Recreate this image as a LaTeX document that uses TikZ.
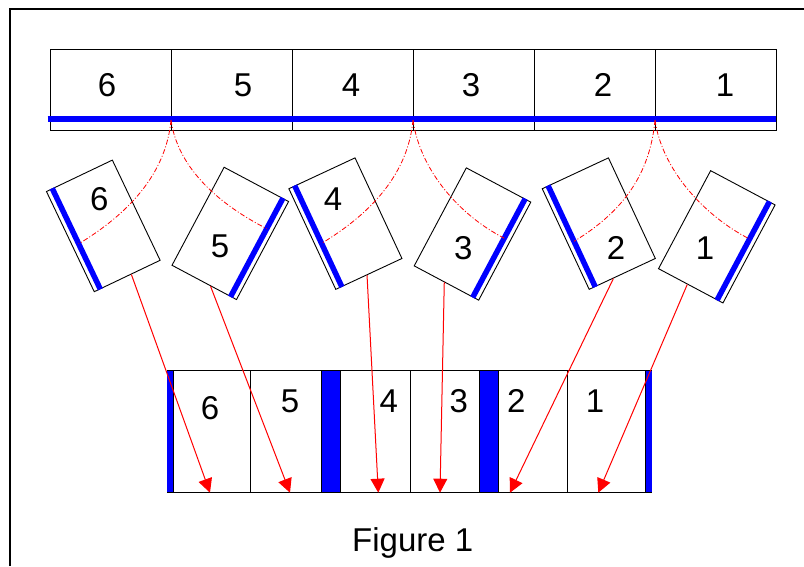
\documentclass[tikz,border=0pt]{standalone}
\usepackage{fontspec}
\setmainfont{Liberation Sans}
\usetikzlibrary{arrows.meta,calc,positioning}

\begin{document}
\begin{tikzpicture}[x=1pt,y=-1pt,
   cell/.style={draw,line width=0.9pt,inner sep=0pt,outer sep=0pt,minimum width=121pt,minimum height=81pt},
   slot/.style={draw,line width=0.9pt,inner sep=0pt,outer sep=0pt,minimum height=122pt},
   gap/.style={fill=blue,inner sep=0pt,outer sep=0pt,minimum height=122pt},
   book/.style={draw,line width=0.9pt,inner sep=0pt,minimum width=73pt,minimum height=111pt},
   num/.style={inner sep=0pt,font=\fontsize{33}{40}\selectfont},
   spine/.style={blue,line width=5.5pt},
   fold/.style={red,line width=0.8pt,dash pattern=on 5pt off 2pt on 1pt off 2pt},
   move/.style={red,line width=1pt,-{Triangle[length=14pt,width=14pt]}}]
   \useasboundingbox (0,0) rectangle (804,566);
   \draw [line width=1.2pt] (10,566) -- (10,9) -- (804,9);
   % upper row
   \node [cell,anchor=north west] (t6) at (50,49) {};
   \node [cell,right=0pt of t6] (t5) {};
   \node [cell,right=0pt of t5] (t4) {};
   \node [cell,right=0pt of t4] (t3) {};
   \node [cell,right=0pt of t3] (t2) {};
   \node [cell,right=0pt of t2] (t1) {};
   \draw [spine] (47.5,119.2) -- (776,119.2);
   \node [num] (n6) at (107,85.3) {6};
   \node [num] (n5) at (243,85.3) {5};
   \node [num] (n4) at (351,85.3) {4};
   \node [num] (n3) at (471,85.3) {3};
   \node [num] (n2) at (603,85.3) {2};
   \node [num] (n1) at (725,85.3) {1};
   % tilted leaves
   \node [book,rotate=25.5] (b6) at (103.3,225.9) {};
   \node [book,rotate=-28] (b5) at (230.3,233.4) {};
   \node [book,rotate=25] (b4) at (345.4,223.6) {};
   \node [book,rotate=-28] (b3) at (472.5,234) {};
   \node [book,rotate=25] (b2) at (598.8,223.6) {};
   \node [book,rotate=-28] (b1) at (716.8,236.8) {};
   \draw [spine] ($(b6.north west)!7pt!(b6.north east)$) coordinate (s6) -- ($(b6.south west)!7pt!(b6.south east)$) coordinate (z6);
   \draw [spine] ($(b5.north east)!7pt!(b5.north west)$) coordinate (s5) -- ($(b5.south east)!7pt!(b5.south west)$) coordinate (z5);
   \draw [spine] ($(b4.north west)!7pt!(b4.north east)$) coordinate (s4) -- ($(b4.south west)!7pt!(b4.south east)$) coordinate (z4);
   \draw [spine] ($(b3.north east)!7pt!(b3.north west)$) coordinate (s3) -- ($(b3.south east)!7pt!(b3.south west)$) coordinate (z3);
   \draw [spine] ($(b2.north west)!7pt!(b2.north east)$) coordinate (s2) -- ($(b2.south west)!7pt!(b2.south east)$) coordinate (z2);
   \draw [spine] ($(b1.north east)!7pt!(b1.north west)$) coordinate (s1) -- ($(b1.south east)!7pt!(b1.south west)$) coordinate (z1);
   \node [num] (l6) at (99.3,199.3) {6};
   \node [num] (l5) at (220,246.7) {5};
   \node [num] (l4) at (333,199) {4};
   \node [num] (l3) at (463.3,248.3) {3};
   \node [num] (l2) at (616,248.3) {2};
   \node [num] (l1) at (705,248.3) {1};
   % folds
   \coordinate (k1) at ([yshift=10pt]t5.south west);
   \coordinate (k2) at ([yshift=10pt]t3.south west);
   \coordinate (k3) at ([yshift=10pt]t1.south west);
   \draw [fold] (k1) .. controls +(-5,55) and +(48,-29) .. ($(s6)!0.55!(z6)$);
   \draw [fold] (k1) .. controls +(7,50) and +(-45,-23) .. ($(s5)!0.31!(z5)$);
   \draw [fold] (k2) .. controls +(-5,55) and +(48,-29) .. ($(s4)!0.57!(z4)$);
   \draw [fold] (k2) .. controls +(7,50) and +(-45,-23) .. ($(s3)!0.4!(z3)$);
   \draw [fold] (k3) .. controls +(-5,55) and +(48,-29) .. ($(s2)!0.55!(z2)$);
   \draw [fold] (k3) .. controls +(7,50) and +(-45,-23) .. ($(s1)!0.38!(z1)$);
   % lower row
   \node [gap,minimum width=6pt,anchor=north west] (g0) at (167.3,370.7) {};
   \node [slot,minimum width=77.4pt,right=0pt of g0] (c6) {};
   \node [slot,minimum width=70.8pt,right=0pt of c6] (c5) {};
   \node [gap,minimum width=19pt,right=0pt of c5] (g1) {};
   \node [slot,minimum width=69.5pt,right=0pt of g1] (c4) {};
   \node [slot,minimum width=69.5pt,right=0pt of c4] (c3) {};
   \node [gap,minimum width=19pt,right=0pt of c3] (g2) {};
   \node [slot,minimum width=69.2pt,right=0pt of g2] (c2) {};
   \node [slot,minimum width=78pt,right=0pt of c2] (c1) {};
   \node [gap,minimum width=6pt,right=0pt of c1] (g3) {};
   \draw [line width=0.9pt] (g0.north west) -- (g3.north east) (g0.south west) -- (g3.south east);
   \node [num] (m6) at (210,408.3) {6};
   \node [num] (m5) at (290,401.3) {5};
   \node [num] (m4) at (388.7,401.3) {4};
   \node [num] (m3) at (458.7,401.3) {3};
   \node [num] (m2) at (516.2,401.3) {2};
   \node [num] (m1) at (595,401.3) {1};
   % moves
   \draw [move] ($(b6.south west)!0.56!(b6.south east)$) -- ([xshift=36.7pt]c6.south west);
   \draw [move] ($(b5.south west)!0.6!(b5.south east)$) -- ([xshift=39.3pt]c5.south west);
   \draw [move] ($(b4.south west)!0.47!(b4.south east)$) -- ([xshift=37.8pt]c4.south west);
   \draw [move] ($(b3.south west)!0.47!(b3.south east)$) -- ([xshift=30pt]c3.south west);
   \draw [move] ($(b2.south west)!0.365!(b2.south east)$) -- ([xshift=11.5pt]c2.south west);
   \draw [move] ($(b1.south west)!0.45!(b1.south east)$) -- ([xshift=30.6pt]c1.south west);
   \node [num,anchor=base] (cap) at (412.7,551.7) {Figure 1};
\end{tikzpicture}
\end{document}
